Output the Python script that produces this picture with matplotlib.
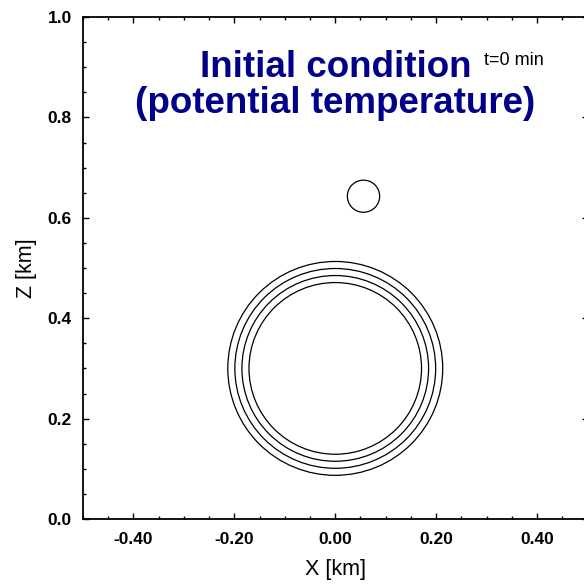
import matplotlib
matplotlib.use("Agg")
import matplotlib.pyplot as plt
import numpy as np
from matplotlib.patches import Circle
from matplotlib.ticker import MultipleLocator, FormatStrFormatter

plt.rcParams['font.family'] = ['Liberation Sans', 'DejaVu Sans']

# Contour data (circles of potential temperature)
big_center_x = 0.0
big_center_z = 0.30
big_radii = [0.213, 0.199, 0.185, 0.171]
small_center_x = 0.056
small_center_z = 0.643
small_radii = [0.032]

x_ticks = [-0.40, -0.20, 0.00, 0.20, 0.40]
z_ticks = [0.0, 0.2, 0.4, 0.6, 0.8, 1.0]

W, H = 584, 586
fig = plt.figure(figsize=(W / 100, H / 100), dpi=100)
left, right, top, bottom = 83, 587.5, 17, 519
ax = fig.add_axes([left / W, 1 - bottom / H, (right - left) / W, (bottom - top) / H])
ax.set_xlim(-0.5, 0.5)
ax.set_ylim(0.0, 1.0)

for r in big_radii:
    ax.add_patch(Circle((big_center_x, big_center_z), r, fill=False, ec='black', lw=0.9))
for r in small_radii:
    ax.add_patch(Circle((small_center_x, small_center_z), r, fill=False, ec='black', lw=0.9))

ax.set_xticks(x_ticks)
ax.set_yticks(z_ticks)
ax.xaxis.set_minor_locator(MultipleLocator(0.05))
ax.yaxis.set_minor_locator(MultipleLocator(0.05))
ax.xaxis.set_major_formatter(FormatStrFormatter('%.2f'))
ax.yaxis.set_major_formatter(FormatStrFormatter('%.1f'))
ax.tick_params(which='both', direction='in', top=True, right=True, width=1.0)
ax.tick_params(which='major', length=4, labelsize=12.5)
ax.tick_params(axis='x', which='major', pad=9)
ax.tick_params(axis='y', which='major', pad=8)
ax.tick_params(which='minor', length=2.5)
for lab in ax.get_xticklabels() + ax.get_yticklabels():
    lab.set_fontweight('bold')
for s in ax.spines.values():
    s.set_linewidth(1.3)

ax.set_xlabel('X [km]', fontsize=15.5, labelpad=9)
ax.set_ylabel('Z [km]', fontsize=15.5, labelpad=8)

navy = '#000088'
ax.text(0.0, 0.880, 'Initial condition', color=navy, fontsize=26.5, fontweight='bold',
        ha='center', va='baseline')
ax.text(0.0, 0.809, '(potential temperature)', color=navy, fontsize=26.5, fontweight='bold',
        ha='center', va='baseline')
ax.text(0.295, 0.904, 't=0 min', color='black', fontsize=13, ha='left', va='baseline')

fig.savefig('out.png', dpi=100)
